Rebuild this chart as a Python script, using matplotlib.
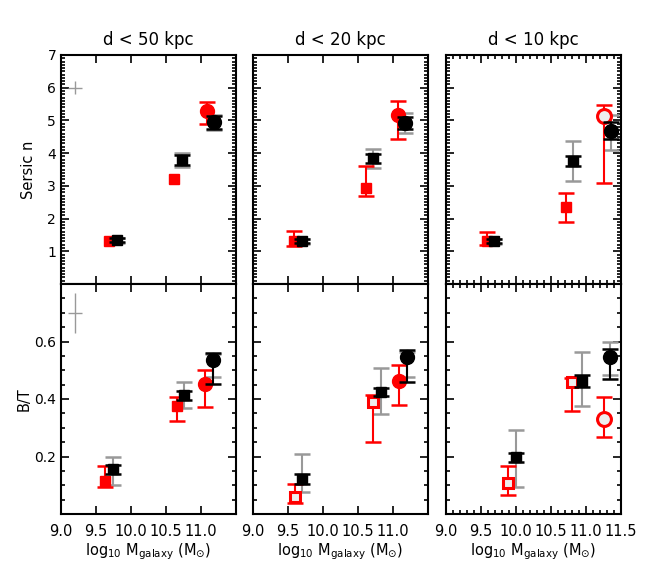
import matplotlib
matplotlib.use("Agg")
import matplotlib.pyplot as plt
from matplotlib.ticker import MultipleLocator, NullLocator
import numpy as np

plt.rcParams['font.family'] = ['DejaVu Sans']

titles = ["d < 50 kpc", "d < 20 kpc", "d < 10 kpc"]

# ---------------- Sersic n ----------------
red_n_x = [[9.69, 10.62, 11.08], [9.58, 10.61, 11.07], [9.58, 10.71, 11.25]]
red_n_y = [[1.31, 3.20, 5.29], [1.31, 2.93, 5.16], [1.31, 2.35, 5.15]]
red_n_up = [[0.0, 0.0, 0.28], [0.30, 0.68, 0.44], [0.28, 0.44, 0.31]]
red_n_dn = [[0.0, 0.0, 0.39], [0.15, 0.24, 0.73], [0.12, 0.45, 2.05]]
red_n_open = [[False, False, False], [False, False, False], [False, False, True]]

blk_n_x = [[9.80, 10.73, 11.18], [9.70, 10.72, 11.17], [9.69, 10.81, 11.35]]
blk_n_y = [[1.34, 3.79, 4.94], [1.31, 3.84, 4.93], [1.31, 3.76, 4.69]]
blk_n_err = [[0.07, 0.16, 0.20], [0.07, 0.14, 0.18], [0.07, 0.14, 0.27]]
gry_n_up = [[0.08, 0.20, 0.22], [0.08, 0.28, 0.30], [0.08, 0.62, 0.48]]
gry_n_dn = [[0.08, 0.20, 0.22], [0.08, 0.30, 0.32], [0.08, 0.60, 0.59]]

# ---------------- B/T ----------------
red_bt_x = [[9.63, 10.66, 11.06], [9.60, 10.72, 11.09], [9.89, 10.80, 11.25]]
red_bt_y = [[0.116, 0.376, 0.451], [0.060, 0.388, 0.463], [0.109, 0.460, 0.330]]
red_bt_up = [[0.050, 0.030, 0.050], [0.044, 0.026, 0.057], [0.059, 0.012, 0.076]]
red_bt_dn = [[0.021, 0.054, 0.078], [0.021, 0.137, 0.083], [0.043, 0.102, 0.063]]
red_bt_open = [[False, False, False], [True, True, False], [True, True, True]]

blk_bt_x = [[9.74, 10.76, 11.17], [9.70, 10.83, 11.20], [10.00, 10.94, 11.34]]
blk_bt_y = [[0.155, 0.414, 0.536], [0.122, 0.425, 0.545], [0.197, 0.463, 0.545]]
blk_bt_up = [[0.016, 0.014, 0.023], [0.016, 0.015, 0.025], [0.016, 0.020, 0.030]]
blk_bt_dn = [[0.016, 0.017, 0.085], [0.016, 0.015, 0.085], [0.016, 0.020, 0.075]]
gry_bt_up = [[0.045, 0.046, 0.020], [0.088, 0.082, 0.020], [0.095, 0.100, 0.055]]
gry_bt_dn = [[0.055, 0.044, 0.058], [0.047, 0.078, 0.067], [0.104, 0.086, 0.062]]

# typical error crosses (left panels)
cross_n = (9.2, 6.0, 0.1, 0.2)
cross_bt = (9.2, 0.70, 0.1, 0.07)

xticks = [9.0, 9.5, 10.0, 10.5, 11.0, 11.5]
nticks = [1, 2, 3, 4, 5, 6, 7]
btticks = [0.2, 0.4, 0.6]

W, H = 664, 570
fig = plt.figure(figsize=(W / 100, H / 100), dpi=100)

lefts = [61, 253, 446]
pw = 175
top_y0, top_y1 = 55, 284
bot_y0, bot_y1 = 284, 514

GRAY = '#999999'
RED = '#ff0000'
MS_C = 10
MS_S = 7
CAP = 5.5


def draw_points(ax, xs, ys, up, dn, color, opens, zo, ms_s=MS_S, ms_c=MS_C):
    for i, (x, y) in enumerate(zip(xs, ys)):
        marker = 'o' if i == 2 else 's'
        ms = ms_c if i == 2 else ms_s
        op = opens[i] if opens is not None else False
        if up[i] > 0 or dn[i] > 0:
            ax.errorbar([x], [y], yerr=[[dn[i]], [up[i]]], fmt='none', ecolor=color,
                        elinewidth=1.5, capsize=CAP, capthick=1.8, zorder=zo)
        if op:
            ax.plot([x], [y], marker=marker, ms=ms, mfc='#eeeeee', mec=color,
                    mew=2.2, ls='none', zorder=zo + 0.5)
        else:
            ax.plot([x], [y], marker=marker, ms=ms, mfc=color, mec=color,
                    ls='none', zorder=zo + 0.5)


def style(ax, show_x, show_y, xminor, ylim, yticks, yminor):
    ax.set_xlim(9.0, 11.5)
    ax.set_ylim(*ylim)
    ax.set_xticks(xticks)
    ax.set_yticks(yticks)
    if xminor:
        ax.xaxis.set_minor_locator(MultipleLocator(0.1))
    else:
        ax.xaxis.set_minor_locator(NullLocator())
    ax.yaxis.set_minor_locator(MultipleLocator(yminor))
    ax.tick_params(which='both', direction='in', top=True, right=True,
                   width=1.2, colors='black', labelsize=10.5)
    ax.tick_params(axis='y', labelsize=10)
    ax.tick_params(which='major', length=6)
    ax.tick_params(which='minor', length=3)
    for s in ax.spines.values():
        s.set_linewidth(1.5)
    if not show_x:
        ax.tick_params(labelbottom=False)
    if not show_y:
        ax.tick_params(labelleft=False)


for p in range(3):
    l = lefts[p] / W
    w = pw / W
    axt = fig.add_axes([l, 1 - top_y1 / H, w, (top_y1 - top_y0) / H])
    axb = fig.add_axes([l, 1 - bot_y1 / H, w, (bot_y1 - bot_y0) / H])

    # top: Sersic n
    for i in range(3):
        axt.errorbar([blk_n_x[p][i]], [blk_n_y[p][i]],
                     yerr=[[gry_n_dn[p][i]], [gry_n_up[p][i]]], fmt='none',
                     ecolor=GRAY, elinewidth=1.5, capsize=CAP, capthick=1.8, zorder=2)
    draw_points(axt, red_n_x[p], red_n_y[p], red_n_up[p], red_n_dn[p], RED,
                red_n_open[p], 3)
    draw_points(axt, blk_n_x[p], blk_n_y[p], blk_n_err[p], blk_n_err[p], 'black',
                None, 5)

    # bottom: B/T
    for i in range(3):
        axb.errorbar([blk_bt_x[p][i]], [blk_bt_y[p][i]],
                     yerr=[[gry_bt_dn[p][i]], [gry_bt_up[p][i]]], fmt='none',
                     ecolor=GRAY, elinewidth=1.5, capsize=CAP, capthick=1.8, zorder=2)
    draw_points(axb, red_bt_x[p], red_bt_y[p], red_bt_up[p], red_bt_dn[p], RED,
                red_bt_open[p], 3)
    draw_points(axb, blk_bt_x[p], blk_bt_y[p], blk_bt_up[p], blk_bt_dn[p], 'black',
                None, 5)

    if p == 0:
        cx, cy, cxe, cye = cross_n
        axt.errorbar([cx], [cy], xerr=cxe, yerr=cye, fmt='none', ecolor=GRAY,
                     elinewidth=1.0, capsize=0)
        cx, cy, cxe, cye = cross_bt
        axb.errorbar([cx], [cy], xerr=cxe, yerr=cye, fmt='none', ecolor=GRAY,
                     elinewidth=1.0, capsize=0)

    style(axt, False, p == 0, p == 2, (0, 7), nticks, 0.1)
    style(axb, True, p == 0, p == 2, (0, 0.8), btticks, 0.05)
    if p < 2:
        axb.set_xticklabels(['9.0', '9.5', '10.0', '10.5', '11.0', ''])
    else:
        axb.set_xticklabels(['9.0', '9.5', '10.0', '10.5', '11.0', '11.5'])
    axb.tick_params(axis='x', pad=7)

    axt.set_title(titles[p], fontsize=12, pad=7)
    axb.set_xlabel(r'log$_{\mathrm{10}}$ M$_{\mathrm{galaxy}}$ (M$_{\odot}$)',
                   fontsize=10.5, labelpad=2)

    if p == 0:
        axt.set_ylabel('Sersic n', fontsize=10.5)
        axt.yaxis.set_label_coords(-0.145, 0.5)
        axb.set_ylabel('B/T', fontsize=10.5)
        axb.yaxis.set_label_coords(-0.17, 0.5)

fig.savefig('out.png', dpi=100)
